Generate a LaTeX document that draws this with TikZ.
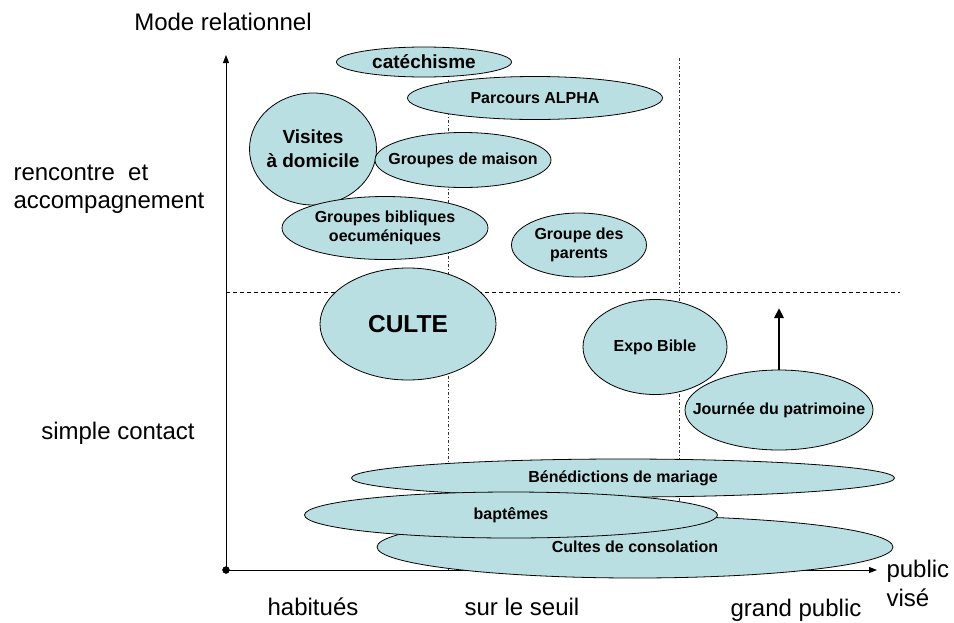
\documentclass[tikz,border=0pt]{standalone}
\usepackage{fontspec}
\setmainfont{Liberation Sans}
\usetikzlibrary{shapes.geometric,arrows.meta}
\definecolor{bulle}{RGB}{186,223,226}

\begin{document}
\begin{tikzpicture}[x=1pt,y=-1pt,
    bulle/.style={ellipse, draw=black, line width=0.8pt, fill=bulle, inner sep=0pt},
    etiq/.style={align=center, inner sep=0pt, font=\fontsize{16}{19}\selectfont\bfseries},
    axe/.style={font=\fontsize{24}{28}\selectfont},
    grille/.style={dash pattern=on 4pt off 3pt, line width=0.6pt},
    grillev/.style={dash pattern=on 3pt off 2pt on 1pt off 2pt, line width=0.6pt, black!80}]
    \useasboundingbox (0,0) rectangle (954,622);

    \coordinate (O) at (226,570);
    \coordinate (Yhaut) at (226,55);
    \coordinate (Xfin) at (877,570);
    \coordinate (Hfin) at (900,292);
    \coordinate (Hdeb) at (226,292);
    \coordinate (V1haut) at (448,80);
    \coordinate (V1bas) at (448,570);
    \coordinate (V2haut) at (679,58);
    \coordinate (V2bas) at (679,570);

    \draw[grille] (Hdeb) -- (Hfin);
    \draw[grillev] (V1haut) -- (V1bas);
    \draw[grillev] (V2haut) -- (V2bas);

    \draw[line width=0.9pt, -{Triangle[length=8pt,width=6pt]}] (O) -- (Yhaut);
    \draw[line width=0.9pt, -{Triangle[length=8pt,width=6pt]}] (O) -- (Xfin);
    \filldraw [black] (O) circle (3.5pt);

    \node[bulle, minimum width=255, minimum height=43, label={[etiq]center:Parcours ALPHA}] (alpha) at (535,98) {};
    \node[bulle, minimum width=175, minimum height=30, label={[etiq, font=\fontsize{19}{22}\selectfont\bfseries]center:catéchisme}] (cate) at (424,62) {};
    \node[bulle, minimum width=127, minimum height=112, label={[etiq, font=\fontsize{19}{24}\selectfont\bfseries]center:{Visites\\à domicile}}] (visites) at (313,149) {};
    \node[bulle, minimum width=176, minimum height=55, label={[etiq]center:Groupes de maison}] (maison) at (463,160) {};
    \node[bulle, minimum width=206, minimum height=63, label={[etiq]center:{Groupes bibliques\\oecuméniques}}] (bibliques) at (385,228) {};
    \node[bulle, minimum width=135, minimum height=64, label={[etiq]center:{Groupe des\\parents}}] (parents) at (579,245) {};
    \node[bulle, minimum width=176, minimum height=112, label={[etiq, font=\fontsize{24.5}{28}\selectfont\bfseries]center:CULTE}] (culte) at (408,324) {};
    \node[bulle, minimum width=144, minimum height=95, label={[etiq]center:Expo Bible}] (expo) at (655,347) {};
    \node[bulle, minimum width=188, minimum height=80, label={[etiq]center:Journée du patrimoine}] (journee) at (779,410) {};
    \node[bulle, minimum width=543, minimum height=38, label={[etiq]center:Bénédictions de mariage}] (mariage) at (623,478) {};
    \node[bulle, minimum width=516, minimum height=62, label={[etiq]center:Cultes de consolation}] (consolation) at (635,547) {};
    \node[bulle, minimum width=413, minimum height=46, label={[etiq]center:baptêmes}] (baptemes) at (511,515) {};

    \coordinate (fleche) at (779,308);
    \draw[line width=2.5pt, -{Triangle[length=10pt,width=9pt]}] (journee.north) -- (fleche);

    \node[axe] (mode) at (223,22) {Mode relationnel};
    \node[axe, align=left, anchor=west] (rencontre) at (10,189) {rencontre~ et\\accompagnement};
    \node[axe] (contact) at (118,433) {simple contact};
    \node[axe] (habitues) at (313,607) {habitués};
    \node[axe] (seuil) at (522,607) {sur le seuil};
    \node[axe] (grand) at (796,610) {grand public};
    \node[axe, align=left, anchor=west, font=\fontsize{24}{29}\selectfont] (public) at (883,583) {public\\visé};
\end{tikzpicture}
\end{document}
